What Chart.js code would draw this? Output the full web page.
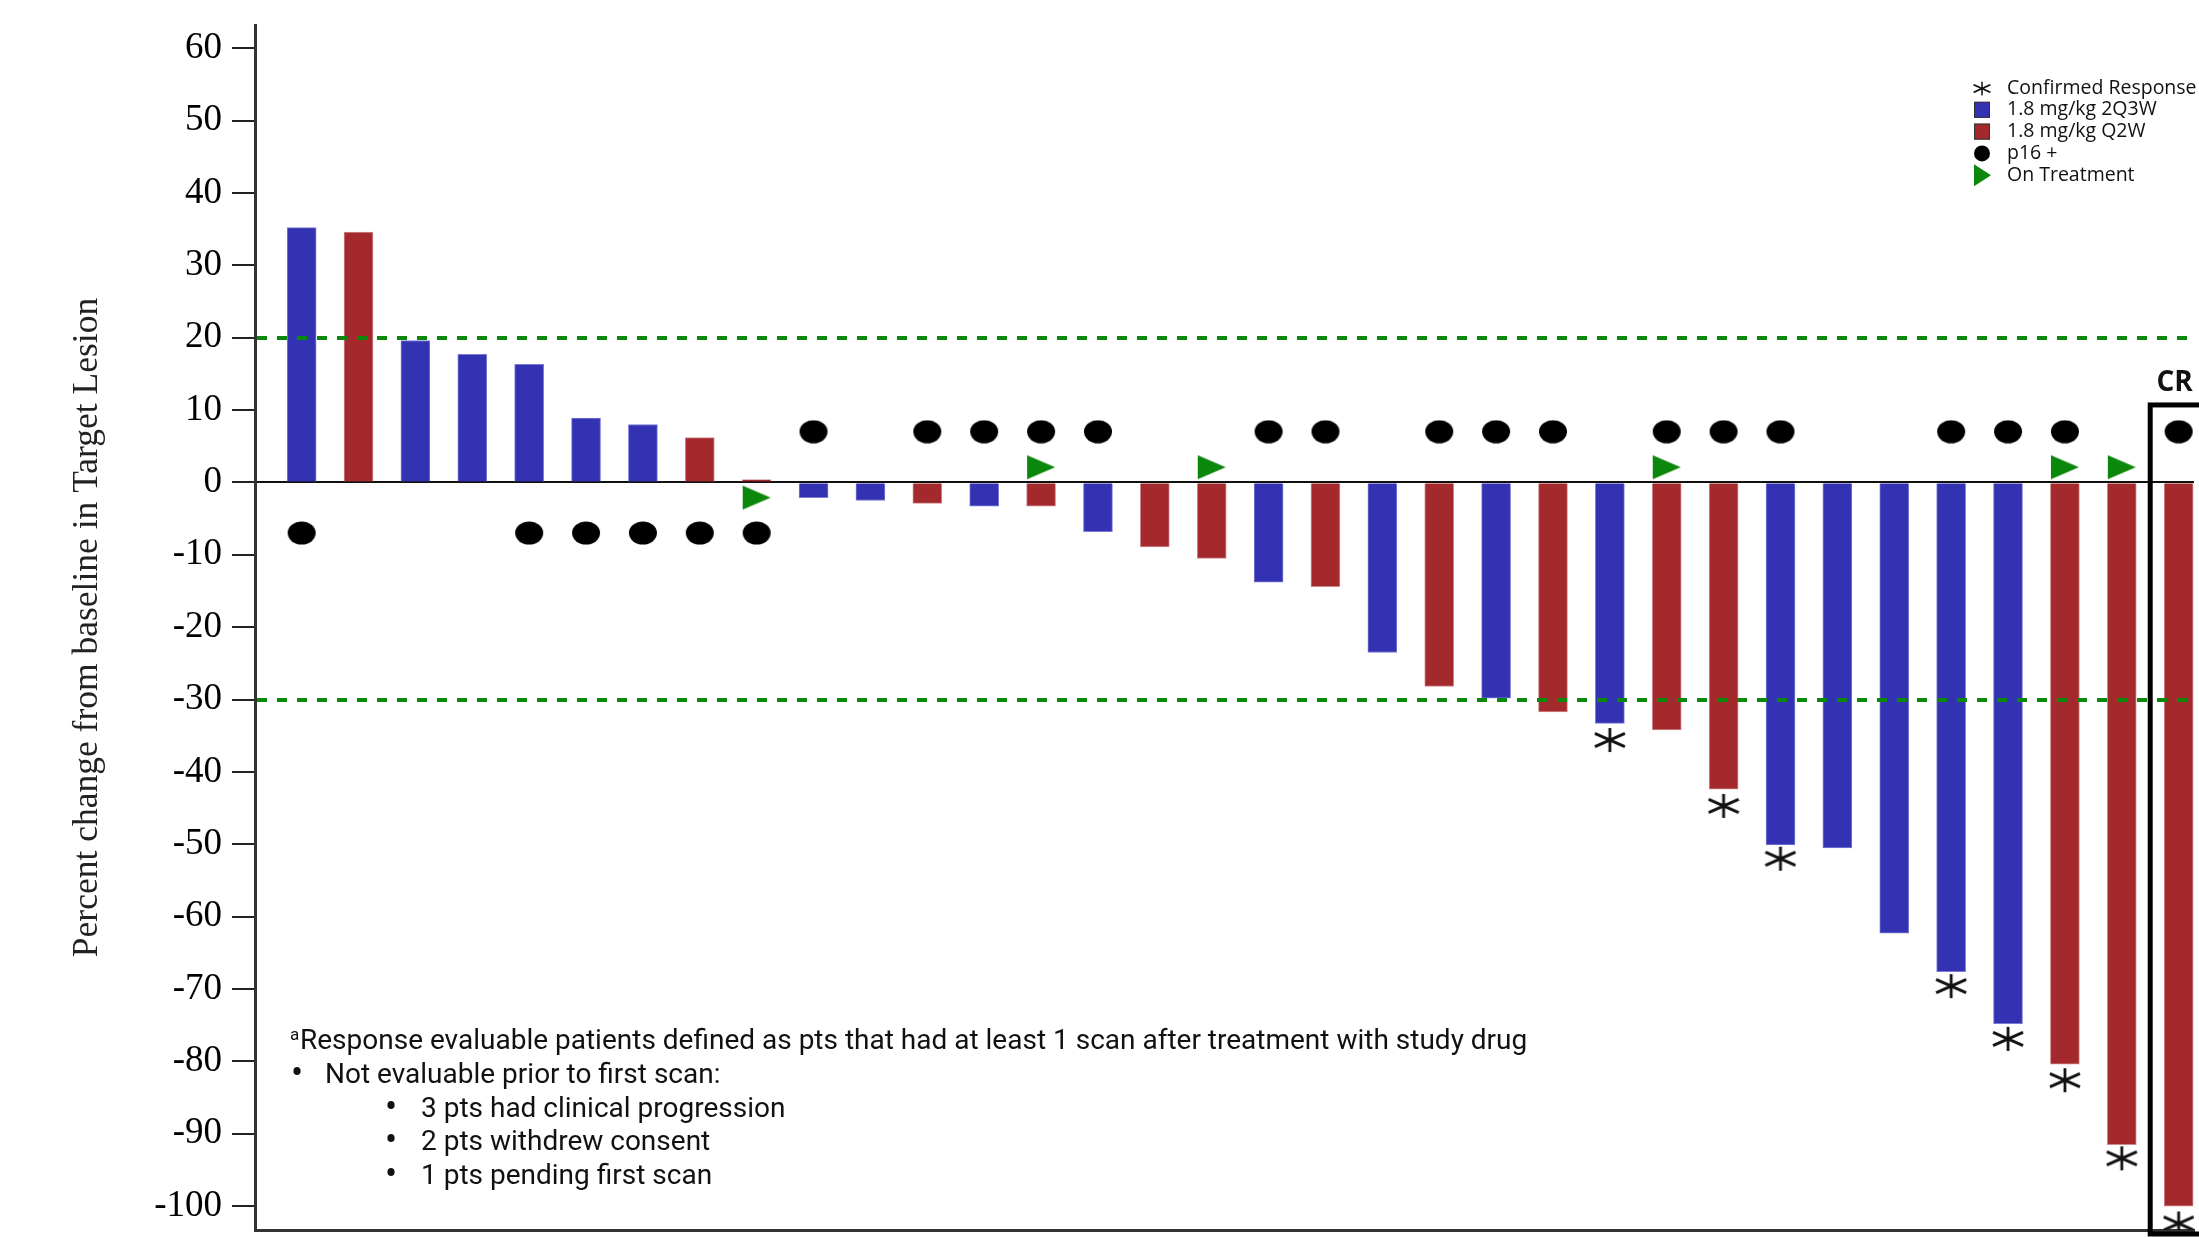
<!DOCTYPE html>
<html>
<head>
<meta charset="utf-8">
<title>Waterfall - percent change in target lesion</title>
<script src="https://cdn.jsdelivr.net/npm/chart.js@4.4.1/dist/chart.umd.min.js"></script>
<style>
  html, body { margin: 0; padding: 0; background: #fff; }
  #wrap { width: 2199px; height: 1237px; }
</style>
</head>
<body>
<div id="wrap"><canvas id="waterfall" width="2199" height="1237"></canvas></div>
<script>
// one bar per patient, sorted high -> low
const patients = [1,2,3,4,5,6,7,8,9,10,11,12,13,14,15,16,17,18,19,20,21,22,23,24,25,26,27,28,29,30,31,32,33,34];
const pctChange = [35.2, 34.6, 19.6, 17.7, 16.3, 8.9, 8.0, 6.2, 0.4, -2.1, -2.5, -2.9, -3.3, -3.3, -6.8, -8.9, -10.5, -13.8, -14.4,
                   -23.5, -28.2, -29.8, -31.7, -33.3, -34.2, -42.4, -50.1, -50.5, -62.3, -67.6, -74.8, -80.4, -91.5, -100];
const dose = ['2Q3W','Q2W','2Q3W','2Q3W','2Q3W','2Q3W','2Q3W','Q2W','Q2W','2Q3W','2Q3W','Q2W','2Q3W','Q2W','2Q3W','Q2W','Q2W',
              '2Q3W','Q2W','2Q3W','Q2W','2Q3W','Q2W','2Q3W','Q2W','Q2W','2Q3W','2Q3W','2Q3W','2Q3W','2Q3W','Q2W','Q2W','Q2W'];

// marker rows (patient number + where the marker sits on the y axis)
const p16Pos = [1, 5, 6, 7, 8, 9, 10, 12, 13, 14, 15, 18, 19, 21, 22, 23, 25, 26, 27, 30, 31, 32, 34];
const p16Y   = [-7, -7, -7, -7, -7, -7, 7, 7, 7, 7, 7, 7, 7, 7, 7, 7, 7, 7, 7, 7, 7, 7, 7];
const onTreat  = [9, 14, 17, 25, 32, 33];
const onTreatY = [-2.1, 2.1, 2.1, 2.1, 2.1, 2.1];
const confirmed  = [24, 26, 27, 30, 31, 32, 33, 34];
const confirmedY = [-35.6, -44.7, -52.0, -69.6, -76.9, -82.6, -93.4, -102.4];

const yTicks = [60, 50, 40, 30, 20, 10, 0, -10, -20, -30, -40, -50, -60, -70, -80, -90, -100];
const cutoffs = [20, -30];
const crPatient = 34;

const legendLabels = ['Confirmed Response', '1.8 mg/kg 2Q3W', '1.8 mg/kg Q2W', 'p16 +', 'On Treatment'];
const footnote = [
  'Response evaluable patients defined as pts that had at least 1 scan after treatment with study drug',
  'Not evaluable prior to first scan:',
  '3 pts had clinical progression',
  '2 pts withdrew consent',
  '1 pts pending first scan'
];

const BLUE = '#3232b2';
const RED = '#a4292c';
const GREEN = '#0b870b';

// little canvases used as point styles
function mkCanvas(w, h, draw) {
  const c = document.createElement('canvas');
  c.width = w; c.height = h;
  draw(c.getContext('2d'), w, h);
  return c;
}
const ellipseImg = mkCanvas(30, 24, (g, w, h) => {
  g.fillStyle = '#000';
  g.beginPath(); g.ellipse(w / 2, h / 2, 14, 11.5, 0, 0, Math.PI * 2); g.fill();
});
const triImg = mkCanvas(30, 26, (g) => {
  g.fillStyle = GREEN;
  g.beginPath(); g.moveTo(1, 1); g.lineTo(29, 13); g.lineTo(1, 25); g.closePath(); g.fill();
});
function starDraw(g, w, h) {
  g.strokeStyle = '#111'; g.lineWidth = 2.8; g.lineCap = 'butt';
  const cx = w / 2, cy = h / 2, rx = w / 2 - 1, ry = h / 2 - 1;
  g.beginPath();
  g.moveTo(cx, cy - ry); g.lineTo(cx, cy + ry);
  g.moveTo(cx - rx, cy - ry * 0.55); g.lineTo(cx + rx, cy + ry * 0.55);
  g.moveTo(cx - rx, cy + ry * 0.55); g.lineTo(cx + rx, cy - ry * 0.55);
  g.stroke();
}
const starImg = mkCanvas(32, 26, starDraw);

function pts(xs, ys) { return xs.map((x, i) => ({ x: x, y: ys[i] })); }
function barsFor(group) {
  return patients.map((p, i) => dose[i] === group ? { x: p, y: pctChange[i] } : null).filter(d => d);
}

// dashed cut-off lines, CR box, legend and footnote
const extras = {
  id: 'extras',
  afterDatasetsDraw(chart) {
    const { ctx, chartArea: a, scales: { x, y } } = chart;
    ctx.save();
    ctx.strokeStyle = GREEN; ctx.lineWidth = 4; ctx.setLineDash([10, 10]);
    cutoffs.forEach(v => {
      const py = Math.round(y.getPixelForValue(v));
      ctx.beginPath(); ctx.moveTo(a.left + 2, py); ctx.lineTo(a.right, py); ctx.stroke();
    });
    ctx.setLineDash([]);

    // CR box around the last patient
    const bx = x.getPixelForValue(crPatient - 0.5);
    const by = y.getPixelForValue(10.7);
    ctx.strokeStyle = '#000'; ctx.lineWidth = 5;
    ctx.strokeRect(bx, by, 80, a.bottom + 4 - by);
    ctx.fillStyle = '#111';
    ctx.font = 'bold 28px "Open Sans"';
    ctx.textAlign = 'center'; ctx.textBaseline = 'middle';
    ctx.fillText('CR', x.getPixelForValue(crPatient) - 4, by - 22);
    ctx.restore();
  },
  afterDraw(chart) {
    const ctx = chart.ctx;
    ctx.save();
    // legend
    const lx = 1982, ly = 88, step = 21.8;
    ctx.font = '19.5px "Open Sans"';
    ctx.textAlign = 'left'; ctx.textBaseline = 'middle';
    legendLabels.forEach((t, i) => {
      const cy = ly + i * step;
      if (i === 0) ctx.drawImage(starImg, lx - 9, cy - 7, 18, 15);
      if (i === 1 || i === 2) {
        ctx.fillStyle = i === 1 ? BLUE : RED;
        ctx.fillRect(lx - 8, cy - 8, 16, 16);
        ctx.strokeStyle = '#333'; ctx.lineWidth = 1;
        ctx.strokeRect(lx - 7.5, cy - 7.5, 15, 15);
      }
      if (i === 3) { ctx.fillStyle = '#000'; ctx.beginPath(); ctx.arc(lx, cy, 8, 0, Math.PI * 2); ctx.fill(); }
      if (i === 4) {
        ctx.fillStyle = GREEN; ctx.beginPath();
        ctx.moveTo(lx - 8, cy - 11); ctx.lineTo(lx + 9, cy); ctx.lineTo(lx - 8, cy + 11); ctx.closePath(); ctx.fill();
      }
      ctx.fillStyle = '#111';
      ctx.fillText(t, 2007, cy);
    });

    // footnote
    ctx.fillStyle = '#111';
    ctx.font = '17px Roboto';
    ctx.fillText('a', 290, 1036);
    ctx.font = '28px Roboto';
    ctx.fillText(footnote[0], 300, 1042);
    ctx.fillText(footnote[1], 325, 1076);
    [2, 3, 4].forEach((k, j) => ctx.fillText(footnote[k], 421, 1109.5 + j * 33.7));
    ctx.font = '36px Roboto';
    ctx.textAlign = 'center';
    ctx.fillText('\u2022', 297, 1076);
    [0, 1, 2].forEach(j => ctx.fillText('\u2022', 391, 1109.5 + j * 33.7));
    ctx.restore();
  }
};

const chart = new Chart(document.getElementById('waterfall').getContext('2d'), {
  type: 'bar',
  data: {
    datasets: [
      { type: 'scatter', label: 'Confirmed Response', data: pts(confirmed, confirmedY), pointStyle: starImg, order: 0 },
      { type: 'scatter', label: 'p16 +', data: pts(p16Pos, p16Y), pointStyle: ellipseImg, order: 0 },
      { type: 'scatter', label: 'On Treatment', data: pts(onTreat, onTreatY), pointStyle: triImg, order: 0 },
      { label: '1.8 mg/kg 2Q3W', data: barsFor('2Q3W'), backgroundColor: BLUE, borderColor: '#7b7bd6', borderWidth: 1, order: 1 },
      { label: '1.8 mg/kg Q2W', data: barsFor('Q2W'), backgroundColor: RED, borderColor: '#d08a8c', borderWidth: 1, order: 1 }
    ]
  },
  options: {
    responsive: false,
    animation: false,
    events: [],
    layout: { padding: { left: 0, right: 0, top: 25, bottom: 7 } },
    datasets: { bar: { barThickness: 29, grouped: false } },
    plugins: { legend: { display: false }, tooltip: { enabled: false } },
    scales: {
      x: {
        type: 'linear', min: 0.18, max: 34.27, offset: false,
        ticks: { display: false },
        grid: { display: false },
        border: { display: true, color: '#333', width: 3 },
        afterFit: s => { s.height = 0; s.paddingLeft = 0; s.paddingRight = 0; }
      },
      y: {
        min: -103.3, max: 63.2,
        afterBuildTicks: s => { s.ticks = yTicks.map(v => ({ value: v })); },
        afterFit: s => { s.width = 255; s.paddingTop = 0; s.paddingBottom = 0; },
        ticks: { color: '#000', padding: 10, font: { family: '"Liberation Serif"', size: 37 } },
        grid: {
          drawOnChartArea: true, drawTicks: true, tickLength: 23, tickWidth: 2, tickColor: '#222',
          color: c => c.tick && c.tick.value === 0 ? '#111' : 'rgba(0,0,0,0)',
          lineWidth: c => c.tick && c.tick.value === 0 ? 2 : 0
        },
        border: { display: true, color: '#333', width: 3 },
        title: {
          display: true, text: 'Percent change from baseline in Target Lesion', color: '#222',
          font: { family: '"Liberation Serif"', size: 35.5 }, padding: { top: 66, bottom: 0 }
        }
      }
    }
  },
  plugins: [extras]
});
</script>
</body>
</html>
